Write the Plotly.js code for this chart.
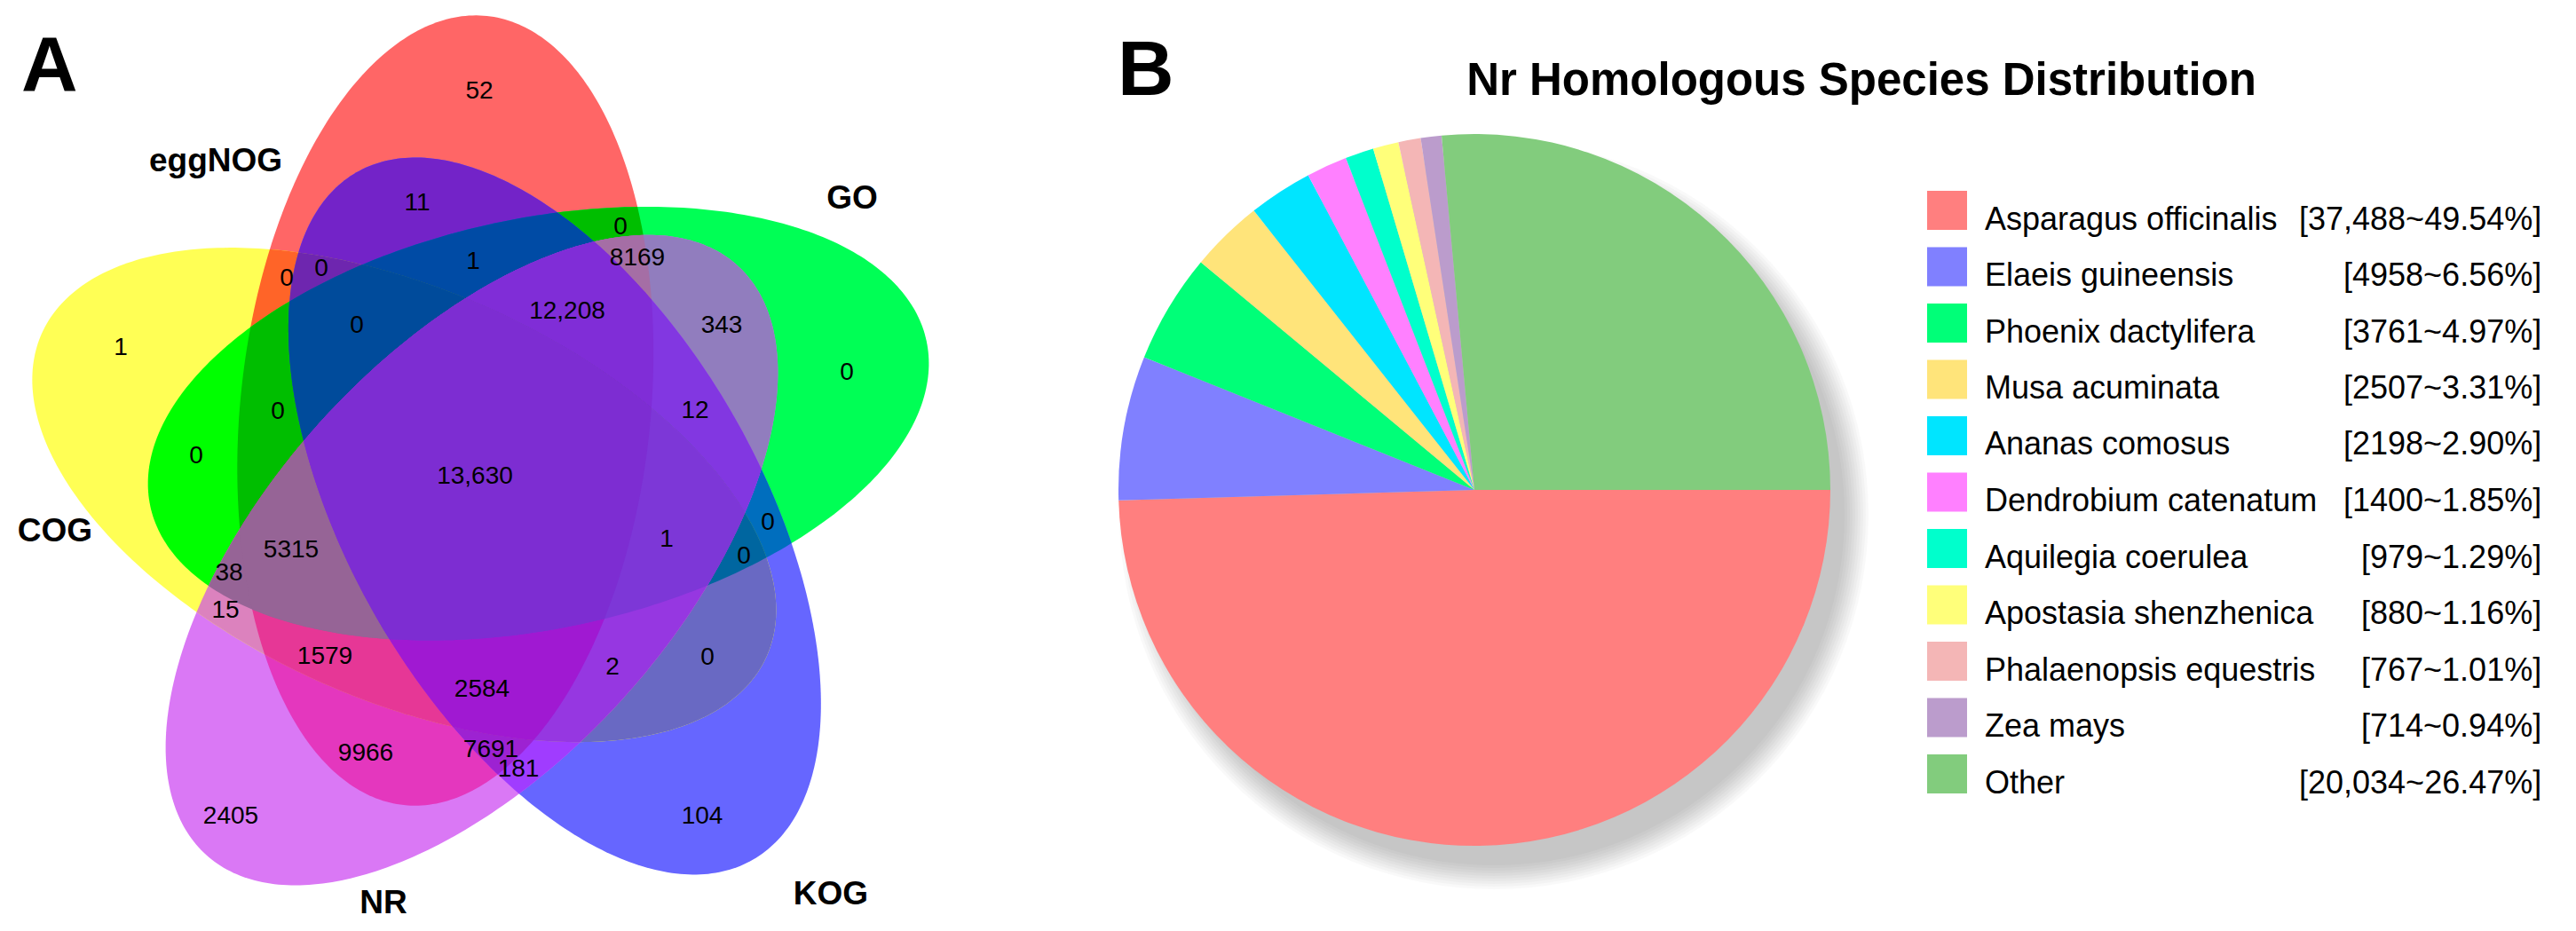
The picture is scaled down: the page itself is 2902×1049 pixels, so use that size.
<!DOCTYPE html>
<html><head><meta charset="utf-8">
<script src="https://cdn.plot.ly/plotly-3.0.1.min.js"></script>
<style>html,body{margin:0;padding:0;background:#fff;overflow:hidden}#chart{width:2902px;height:1049px}</style>
</head><body><div id="chart"></div>
<script>
// ---------------- DATA ----------------
const setNames = ['eggNOG', 'GO', 'KOG', 'NR', 'COG'];
const regionCounts = ['52','11','0','8169','0','0','1','1','0','12,208','343','0','0','12','0','13,630',
  '5315','38','15','1','0','0','1579','2584','2','0','9966','7691','181','2405','104'];
const speciesNames = ['Asparagus officinalis','Elaeis guineensis','Phoenix dactylifera','Musa acuminata',
  'Ananas comosus','Dendrobium catenatum','Aquilegia coerulea','Apostasia shenzhenica',
  'Phalaenopsis equestris','Zea mays','Other'];
const speciesCounts = [37488, 4958, 3761, 2507, 2198, 1400, 979, 880, 767, 714, 20034];
const speciesPercents = ['49.54','6.56','4.97','3.31','2.90','1.85','1.29','1.16','1.01','0.94','26.47'];

// ---------------- POSITIONS / STYLES ----------------
const W = 2902, H = 1049;
const FONT = 'Liberation Sans, Arial, sans-serif';
const regionX = [540,470,699,718,323,362,533,136,402,639,813,954,313,783,221,535,
  328,258,254,751,865,838,366,543,690,797,412,553,584,260,791];
const regionY = [104,230,257,292,315,304,296,393,368,352,368,421,465,464,515,538,
  621,647,689,609,590,628,741,778,753,742,850,846,868,921,921];
const setLabelX = [243, 960, 936, 432, 62];
const setLabelY = [184, 226, 1010, 1020, 601];
const pieColors = ['#FF7F7F','#8080FF','#00FF78','#FFE47A','#00E5FF','#FF80FF','#00FFCC','#FFFF7A','#F4B6B6','#BB9CCC','#82CC7D'];

// ellipse geometry (pixel units of the Venn panel)
const ELL = {cx: 544, cy: 542, dist: 90, a: 231, b: 447, phi0: 118, alpha0: 84, step: 72, n: 360};
// colour of each region (bit i = set i)
const regionColor = {
  1:[255,102,102], 2:[0,255,85], 3:[0,190,0], 4:[102,102,255], 5:[115,35,200], 6:[0,110,190],
  7:[0,75,165], 8:[218,120,245], 9:[228,55,190], 10:[145,125,190], 11:[165,110,165],
  12:[160,60,255], 13:[157,34,210], 14:[130,55,225], 15:[128,45,215], 16:[255,255,85],
  17:[255,100,40], 18:[0,255,0], 19:[0,190,0], 20:[105,105,195], 21:[110,38,175],
  22:[0,102,160], 23:[0,75,155], 24:[220,130,190], 25:[230,55,150], 26:[150,100,150],
  27:[150,100,150], 28:[150,55,225], 29:[160,25,210], 30:[125,55,215], 31:[125,45,210]
};

// ---------------- GEOMETRY ----------------
const rad = d => d * Math.PI / 180;
function ellipsePoly(i) {
  const phi = rad(ELL.phi0 - ELL.step * i), al = rad(ELL.alpha0 - ELL.step * i);
  const cx = ELL.cx + ELL.dist * Math.cos(phi), cy = ELL.cy - ELL.dist * Math.sin(phi);
  const pts = [];
  for (let k = 0; k < ELL.n; k++) {
    const t = 2 * Math.PI * k / ELL.n;
    const ux = ELL.b * Math.cos(t), uy = ELL.a * Math.sin(t);
    const X = ux * Math.cos(al) - uy * Math.sin(al);
    const Y = ux * Math.sin(al) + uy * Math.cos(al);
    pts.push([cx + X, cy - Y]);
  }
  return pts;
}
function area(p) { let s = 0; for (let i = 0; i < p.length; i++) { const a = p[i], b = p[(i+1)%p.length]; s += a[0]*b[1]-b[0]*a[1]; } return s/2; }
function inter(a, b, p, q) {
  const A1 = b[1]-a[1], B1 = a[0]-b[0], C1 = A1*a[0]+B1*a[1];
  const A2 = q[1]-p[1], B2 = p[0]-q[0], C2 = A2*p[0]+B2*p[1];
  const det = A1*B2 - A2*B1;
  return [(B2*C1 - B1*C2)/det, (A1*C2 - A2*C1)/det];
}
function clip(subject, clipP) {
  const s = Math.sign(area(clipP));
  let out = subject;
  for (let i = 0; i < clipP.length && out.length; i++) {
    const a = clipP[i], b = clipP[(i+1)%clipP.length];
    const inside = p => s*((b[0]-a[0])*(p[1]-a[1]) - (b[1]-a[1])*(p[0]-a[0])) >= 0;
    const inp = out; out = [];
    for (let j = 0; j < inp.length; j++) {
      const P = inp[(j + inp.length - 1) % inp.length], Q = inp[j];
      const qi = inside(Q), pi = inside(P);
      if (qi) { if (!pi) out.push(inter(a, b, P, Q)); out.push(Q); }
      else if (pi) out.push(inter(a, b, P, Q));
    }
  }
  return out;
}
const ellipses = setNames.map((_, i) => ellipsePoly(i));
const popcount = m => m.toString(2).split('').filter(c => c === '1').length;
const masks = [];
for (let m = 1; m < 32; m++) masks.push(m);
masks.sort((p, q) => popcount(p) - popcount(q) || p - q);

const shapes = [];
masks.forEach(m => {
  let poly = null;
  for (let i = 0; i < 5; i++) if (m & (1 << i)) poly = poly ? clip(poly, ellipses[i]) : ellipses[i];
  if (!poly || poly.length < 3) return;
  const path = 'M' + poly.map(p => p[0].toFixed(2) + ',' + p[1].toFixed(2)).join('L') + 'Z';
  const c = regionColor[m];
  shapes.push({type: 'path', xref: 'x', yref: 'y', path, fillcolor: `rgb(${c[0]},${c[1]},${c[2]})`,
    line: {width: 0}, layer: 'below'});
});

// pie shadow (soft, offset to lower right)
const PIE = {cx: 1661, cy: 552, r: 401};
for (let k = 0; k < 10; k++) {
  const r = PIE.r - 6 + 3 * k, cx = PIE.cx + 22, cy = PIE.cy + 28;
  shapes.push({type: 'circle', xref: 'paper', yref: 'paper', layer: 'below',
    x0: (cx - r) / W, x1: (cx + r) / W, y0: 1 - (cy + r) / H, y1: 1 - (cy - r) / H,
    fillcolor: 'rgba(0,0,0,0.025)', line: {width: 0}});
}

// legend
const LEG = {sqX0: 2171, sqX1: 2216, sqH: 44, y0: 246, dy: 63.5, nameX: 2234, valX: 2865};
const annotations = [];
const fmt = n => n >= 10000 ? n.toLocaleString('en-US') : String(n);
speciesNames.forEach((name, i) => {
  const yc = LEG.y0 + LEG.dy * i;
  shapes.push({type: 'rect', xref: 'paper', yref: 'paper', x0: LEG.sqX0 / W, x1: LEG.sqX1 / W,
    y0: 1 - (yc - 9 + LEG.sqH / 2) / H, y1: 1 - (yc - 9 - LEG.sqH / 2) / H,
    fillcolor: pieColors[i], line: {width: 0}});
  annotations.push({xref: 'paper', yref: 'paper', x: LEG.nameX / W, y: 1 - yc / H, xanchor: 'left', yanchor: 'middle',
    text: name, showarrow: false, font: {family: FONT, size: 36, color: '#000'}});
  annotations.push({xref: 'paper', yref: 'paper', x: LEG.valX / W, y: 1 - yc / H, xanchor: 'right', yanchor: 'middle',
    text: '[' + fmt(speciesCounts[i]) + '~' + speciesPercents[i] + '%]', showarrow: false,
    font: {family: FONT, size: 36, color: '#000'}});
});
annotations.push({xref: 'paper', yref: 'paper', x: 56 / W, y: 1 - 72 / H, xanchor: 'center', yanchor: 'middle',
  text: '<b>A</b>', showarrow: false, font: {family: FONT, size: 88, color: '#000'}});
annotations.push({xref: 'paper', yref: 'paper', x: 1291 / W, y: 1 - 76 / H, xanchor: 'center', yanchor: 'middle',
  text: '<b>B</b>', showarrow: false, font: {family: FONT, size: 88, color: '#000'}});

// ---------------- TRACES ----------------
const traces = [
  {type: 'scatter', mode: 'text', x: regionX, y: regionY, text: regionCounts, textposition: 'middle center',
    textfont: {family: FONT, size: 28, color: '#000'}, hoverinfo: 'text', showlegend: false, cliponaxis: false},
  {type: 'scatter', mode: 'text', x: setLabelX, y: setLabelY, text: setNames.map(s => '<b>' + s + '</b>'),
    textposition: 'middle center', textfont: {family: FONT, size: 37, color: '#000'}, hoverinfo: 'text',
    showlegend: false, cliponaxis: false},
  {type: 'pie', values: speciesCounts, labels: speciesNames, sort: false, direction: 'clockwise', rotation: 90,
    marker: {colors: pieColors, line: {width: 0}}, textinfo: 'none', showlegend: false,
    domain: {x: [(PIE.cx - PIE.r) / W, (PIE.cx + PIE.r) / W], y: [1 - (PIE.cy + PIE.r) / H, 1 - (PIE.cy - PIE.r) / H]}}
];

const layout = {
  width: W, height: H, margin: {l: 0, r: 0, t: 0, b: 0}, paper_bgcolor: '#fff', plot_bgcolor: 'rgba(0,0,0,0)',
  showlegend: false,
  title: {text: '<b>Nr Homologous Species Distribution</b>', x: 2097 / W, xanchor: 'center',
    y: 1 - 89 / H, yanchor: 'middle', font: {family: FONT, size: 51, color: '#000'}},
  xaxis: {domain: [0, 1100 / W], range: [0, 1100], visible: false, fixedrange: true},
  yaxis: {domain: [0, 1], range: [H, 0], visible: false, fixedrange: true},
  shapes, annotations
};
Plotly.newPlot('chart', traces, layout, {displayModeBar: false, staticPlot: true});
</script></body></html>
